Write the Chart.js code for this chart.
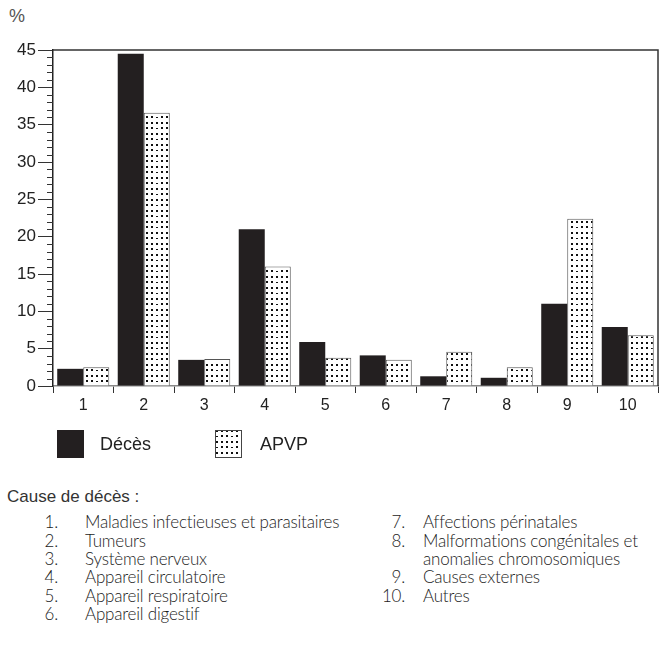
<!DOCTYPE html>
<html>
<head>
<meta charset="utf-8">
<script src="https://cdn.jsdelivr.net/npm/chart.js@4.4.1/dist/chart.umd.min.js"></script>
<style>
  html, body { margin: 0; padding: 0; background: #fff; }
  body { width: 660px; height: 645px; position: relative; overflow: hidden; }
  #wrap { position: absolute; left: 0; top: 0; width: 660px; height: 470px; }
  .pct { position: absolute; left: 9px; top: 6px; font: 18px "Liberation Sans", Arial, sans-serif; color: #555; }
  .list { position: absolute; left: 0; top: 0; font-family: Lato, sans-serif; font-weight: 300; font-size: 17px; letter-spacing: -0.2px; color: #1c1c1c; white-space: nowrap; }
  .list div { position: absolute; height: 18px; line-height: 18px; }
  .num { text-align: right; width: 30px; }
  .head { font-family: "Liberation Sans", Arial, sans-serif; font-weight: 400; font-size: 17px; letter-spacing: 0; color: #333; }
</style>
</head>
<body>
<div class="pct">%</div>
<div id="wrap"><canvas id="chart"></canvas></div>
<div class="list" id="causes"></div>
<script>
// categories and series values (%)
const categories = ['1', '2', '3', '4', '5', '6', '7', '8', '9', '10'];
const deces = [2.3, 44.5, 3.5, 21.0, 5.9, 4.1, 1.3, 1.1, 11.0, 7.9];
const apvp = [2.5, 36.6, 3.6, 16.0, 3.8, 3.5, 4.6, 2.5, 22.4, 6.8];
const yTicks = [0, 5, 10, 15, 20, 25, 30, 35, 40, 45];
const seriesNames = ['Décès', 'APVP'];
const causeTitle = 'Cause de décès :';
const causes = [
  'Maladies infectieuses et parasitaires',
  'Tumeurs',
  'Système nerveux',
  'Appareil circulatoire',
  'Appareil respiratoire',
  'Appareil digestif',
  'Affections périnatales',
  ['Malformations congénitales et', 'anomalies chromosomiques'],
  'Causes externes',
  'Autres'
];

function makeDots() {
  const c = document.createElement('canvas');
  c.width = 15; c.height = 11;
  const g = c.getContext('2d');
  g.fillStyle = '#fff';
  g.fillRect(0, 0, 15, 11);
  g.fillStyle = '#111';
  const dots = [[1, 1], [6, 1], [11, 1], [1, 6], [11, 6]];
  dots.forEach(([x, y]) => g.fillRect(x, y, 2, 2));
  g.fillRect(6, 7, 2, 1);
  return g.createPattern(c, 'repeat');
}

const ctx = document.getElementById('chart').getContext('2d');
const dots = makeDots();

const frame = {
  id: 'frame',
  afterDatasetsDraw(chart) {
    const { ctx, chartArea: a, scales } = chart;
    const y = scales.y;
    ctx.save();
    // minor ticks on the y axis
    ctx.strokeStyle = '#333';
    ctx.lineWidth = 1;
    for (let v = 0; v <= 45; v++) {
      if (v % 5 === 0) continue;
      const py = Math.round(y.getPixelForValue(v)) + 0.5;
      ctx.beginPath();
      ctx.moveTo(a.left - 6, py);
      ctx.lineTo(a.left, py);
      ctx.stroke();
    }
    // top and right border
    ctx.strokeStyle = '#333';
    ctx.lineWidth = 1.5;
    ctx.beginPath();
    ctx.moveTo(a.left, a.top);
    ctx.lineTo(a.right, a.top);
    ctx.lineTo(a.right, a.bottom);
    ctx.stroke();
    ctx.restore();
  },
  afterDraw(chart) {
    // legend
    const { ctx } = chart;
    const items = [
      { x: 57, fill: '#231f20', label: seriesNames[0], tx: 100 },
      { x: 215, fill: dots, label: seriesNames[1], tx: 260 }
    ];
    ctx.save();
    items.forEach(it => {
      ctx.fillStyle = it.fill;
      ctx.fillRect(it.x, 430, 27, 28);
      if (it.fill === dots) {
        ctx.strokeStyle = '#444';
        ctx.lineWidth = 1;
        ctx.strokeRect(it.x + 0.5, 430.5, 26, 27);
      }
      ctx.fillStyle = '#222';
      ctx.font = '18px "Liberation Sans", Arial, sans-serif';
      ctx.textBaseline = 'middle';
      ctx.fillText(it.label, it.tx, 445);
    });
    ctx.restore();
  }
};

new Chart(ctx, {
  type: 'bar',
  data: {
    labels: categories,
    datasets: [
      { label: seriesNames[0], data: deces, backgroundColor: '#231f20', borderWidth: 0 },
      { label: seriesNames[1], data: apvp, backgroundColor: dots, borderColor: '#555', borderWidth: 1, borderSkipped: 'bottom' }
    ]
  },
  options: {
    responsive: true,
    maintainAspectRatio: false,
    animation: false,
    datasets: { bar: { categoryPercentage: 0.86, barPercentage: 1.0 } },
    layout: { padding: { top: 50, right: 2, bottom: 54, left: 0 } },
    plugins: { legend: { display: false }, tooltip: { enabled: false } },
    scales: {
      x: {
        offset: true,
        grid: { offset: true, drawOnChartArea: false, drawTicks: true, tickLength: 7, color: '#333' },
        border: { color: '#888', width: 1.5 },
        ticks: { color: '#222', padding: 3, font: { family: 'Liberation Sans', size: 16 } },
        afterFit(s) { s.height = 30; }
      },
      y: {
        min: 0,
        max: 45,
        afterBuildTicks(s) { s.ticks = yTicks.map(v => ({ value: v })); },
        grid: { drawOnChartArea: false, drawTicks: true, tickLength: 15, color: '#333' },
        border: { color: '#222', width: 1.5 },
        ticks: { color: '#222', padding: 2, font: { family: 'Liberation Sans', size: 17 } },
        afterFit(s) { s.width = 53; }
      }
    }
  },
  plugins: [frame]
});

// cause list below the chart
const list = document.getElementById('causes');
function add(text, x, y, cls) {
  const d = document.createElement('div');
  d.textContent = text;
  d.style.left = x + 'px';
  d.style.top = y + 'px';
  if (cls) d.className = cls;
  list.appendChild(d);
}
add(causeTitle, 7, 488, 'head');
const rowY = [513, 532, 550, 568, 587, 605];
causes.slice(0, 6).forEach((c, i) => {
  add((i + 1) + '.', 28, rowY[i], 'num');
  add(c, 85, rowY[i]);
});
let r = 0;
causes.slice(6).forEach((c, i) => {
  add((i + 7) + '.', 375, rowY[r], 'num');
  const lines = Array.isArray(c) ? c : [c];
  lines.forEach(l => { add(l, 423, rowY[r]); r++; });
});
</script>
</body>
</html>
